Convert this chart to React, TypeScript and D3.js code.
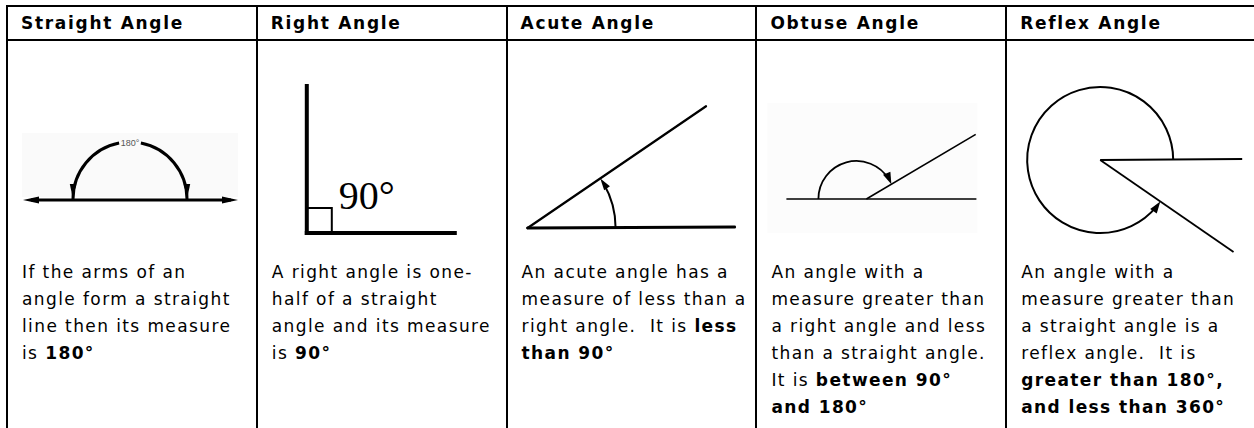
import React, { useEffect, useRef } from 'react';
import * as d3 from 'd3';

// table content
const angleNames = ['Straight Angle', 'Right Angle', 'Acute Angle', 'Obtuse Angle', 'Reflex Angle'];
const angleDegrees = [180, 90, 34.3, 149.4, 325.4];

// each line is a list of [text, bold] pieces
const descriptions: [string, boolean][][][] = [
  [
    [['If the arms of an', false]],
    [['angle form a straight', false]],
    [['line then its measure', false]],
    [['is ', false], ['180°', true]],
  ],
  [
    [['A right angle is one-', false]],
    [['half of a straight', false]],
    [['angle and its measure', false]],
    [['is ', false], ['90°', true]],
  ],
  [
    [['An acute angle has a', false]],
    [['measure of less than a', false]],
    [['right angle.  It is ', false], ['less', true]],
    [['than 90°', true]],
  ],
  [
    [['An angle with a', false]],
    [['measure greater than', false]],
    [['a right angle and less', false]],
    [['than a straight angle.', false]],
    [['It is ', false], ['between 90°', true]],
    [['and 180°', true]],
  ],
  [
    [['An angle with a', false]],
    [['measure greater than', false]],
    [['a straight angle is a', false]],
    [['reflex angle.  It is', false]],
    [['greater than 180°,', true]],
    [['and less than 360°', true]],
  ],
];

const W = 1254;
const H = 428;
const FONT = "'Comic Sans MS', 'DejaVu Sans', sans-serif";
const rad = (d: number) => (d * Math.PI) / 180;

const App = () => {
  const svgRef = useRef<SVGSVGElement>(null);

  useEffect(() => {
    const svg = d3.select(svgRef.current);
    svg.selectAll('*').remove();

    const colX = d3.scaleLinear().domain([0, angleNames.length]).range([7, 1256]);
    const lineY = d3.scaleLinear().domain([0, 1]).range([278, 305]);

    // arrowhead helper: tip point and direction
    const arrow = (g: any, tx: number, ty: number, dx: number, dy: number, len: number, hw: number) => {
      const n = Math.hypot(dx, dy);
      const ux = dx / n, uy = dy / n;
      const bx = tx - ux * len, by = ty - uy * len;
      g.append('path')
        .attr('d', `M${tx},${ty}L${bx - uy * hw},${by + ux * hw}L${bx + uy * hw},${by - ux * hw}Z`)
        .attr('fill', '#000');
    };

    const arcPath = (cx: number, cy: number, r: number, a0: number, a1: number, ccw: boolean) => {
      const p = d3.path();
      p.moveTo(cx + r * Math.cos(a0), cy + r * Math.sin(a0));
      p.arc(cx, cy, r, a0, a1, ccw);
      return p.toString();
    };

    // ---- table grid ----
    const grid = svg.append('g').attr('stroke', '#000').attr('stroke-width', 2);
    grid.append('line').attr('x1', 6).attr('x2', W).attr('y1', 6).attr('y2', 6);
    grid.append('line').attr('x1', 6).attr('x2', W).attr('y1', 40).attr('y2', 40);
    d3.range(angleNames.length).forEach((i) => {
      grid.append('line')
        .attr('x1', Math.round(colX(i))).attr('x2', Math.round(colX(i)))
        .attr('y1', 5).attr('y2', H);
    });

    // ---- headers ----
    svg.selectAll('.hdr')
      .data(angleNames)
      .enter()
      .append('text')
      .attr('class', 'hdr')
      .attr('x', (d, i) => colX(i) + 14)
      .attr('y', 29)
      .attr('font-family', FONT)
      .attr('font-weight', 'bold')
      .attr('font-size', 17)
      .attr('letter-spacing', 1.7)
      .text((d) => d);

    // ---- descriptions ----
    descriptions.forEach((lines, i) => {
      const t = svg.append('text')
        .attr('font-family', FONT)
        .attr('font-size', 17)
        .attr('letter-spacing', 1.4)
        .style('white-space', 'pre');
      lines.forEach((parts, j) => {
        parts.forEach(([txt, bold], k) => {
          const s = t.append('tspan').attr('font-weight', bold ? 'bold' : 'normal').text(txt);
          if (k === 0) s.attr('x', colX(i) + 15).attr('y', lineY(j));
        });
      });
    });

    // ---- straight angle ----
    {
      const g = svg.append('g');
      const x0 = colX(0);
      const cy = 200, cx = x0 + 123, r = 57;
      g.append('rect').attr('x', x0 + 15).attr('y', 133).attr('width', 216).attr('height', 64).attr('fill', '#fafafa');
      g.append('line').attr('x1', x0 + 24).attr('x2', x0 + 224).attr('y1', cy).attr('y2', cy)
        .attr('stroke', '#000').attr('stroke-width', 3);
      arrow(g, x0 + 16, cy, -1, 0, 16, 3.5);
      arrow(g, x0 + 231, cy, 1, 0, 16, 3.5);
      const half = angleDegrees[0] / 2;
      const gap = 11;
      [[180, 270 - gap], [270 + gap, 180 + angleDegrees[0]]].forEach(([a0, a1]) => {
        g.append('path').attr('d', arcPath(cx, cy - 1, r, rad(a0), rad(a1), false))
          .attr('fill', 'none').attr('stroke', '#000').attr('stroke-width', 3);
      });
      arrow(g, cx - r, cy - 1, 0, 1, 15, 3.2);
      arrow(g, cx + r, cy - 1, 0, 1, 15, 3.2);
      g.append('text').attr('x', cx).attr('y', cy - r - 1 + 3.5).attr('text-anchor', 'middle')
        .attr('font-family', "'Liberation Sans', Arial, sans-serif").attr('font-size', 9)
        .attr('fill', '#555').text(`${half * 2}°`);
    }

    // ---- right angle ----
    {
      const g = svg.append('g');
      const x0 = colX(1);
      const vx = x0 + 50, vy = 233;
      g.append('line').attr('x1', vx).attr('x2', vx).attr('y1', 84).attr('y2', vy + 2)
        .attr('stroke', '#000').attr('stroke-width', 4);
      g.append('line').attr('x1', vx - 2).attr('x2', vx + 150).attr('y1', vy).attr('y2', vy)
        .attr('stroke', '#000').attr('stroke-width', 4);
      g.append('rect').attr('x', vx).attr('y', vy - 25).attr('width', 25).attr('height', 25)
        .attr('fill', 'none').attr('stroke', '#000').attr('stroke-width', 2);
      g.append('text').attr('x', vx + 32).attr('y', 209)
        .attr('font-family', "'Liberation Serif', 'Times New Roman', serif").attr('font-size', 40)
        .text(`${angleDegrees[1]}°`);
    }

    // ---- acute angle ----
    {
      const g = svg.append('g');
      const x0 = colX(2);
      const vx = x0 + 21, vy = 228;
      const a = rad(-angleDegrees[2]);
      const len = 216, r = 88;
      g.append('line').attr('x1', vx).attr('x2', vx + 207).attr('y1', vy).attr('y2', vy - 1)
        .attr('stroke', '#000').attr('stroke-width', 3).attr('stroke-linecap', 'round');
      g.append('line').attr('x1', vx).attr('x2', vx + len * Math.cos(a)).attr('y1', vy).attr('y2', vy + len * Math.sin(a))
        .attr('stroke', '#000').attr('stroke-width', 2.2).attr('stroke-linecap', 'round');
      g.append('path').attr('d', arcPath(vx, vy, r, 0, a + rad(4), true))
        .attr('fill', 'none').attr('stroke', '#000').attr('stroke-width', 2);
      arrow(g, vx + r * Math.cos(a), vy + r * Math.sin(a), Math.sin(a), -Math.cos(a), 12, 3.5);
    }

    // ---- obtuse angle ----
    {
      const g = svg.append('g');
      const x0 = colX(3);
      const vx = x0 + 110, vy = 199;
      const a = rad(-(180 - angleDegrees[3]));
      g.append('rect').attr('x', x0 + 11).attr('y', 103).attr('width', 210).attr('height', 130).attr('fill', '#fcfcfc');
      g.append('line').attr('x1', x0 + 30).attr('x2', x0 + 220).attr('y1', vy).attr('y2', vy)
        .attr('stroke', '#000').attr('stroke-width', 1.6);
      const len = 127;
      g.append('line').attr('x1', vx).attr('x2', vx + len * Math.cos(a)).attr('y1', vy).attr('y2', vy + len * Math.sin(a))
        .attr('stroke', '#000').attr('stroke-width', 1.6);
      // the arc is drawn around a point just left of the vertex, as in the original sketch
      const cx = vx - 10, r = 38;
      const t = 29;
      const ex = vx + t * Math.cos(a), ey = vy + t * Math.sin(a);
      const ea = Math.atan2(ey - vy, ex - cx) + 2 * Math.PI;
      g.append('path').attr('d', arcPath(cx, vy, r, Math.PI, ea - rad(8), false))
        .attr('fill', 'none').attr('stroke', '#000').attr('stroke-width', 1.8);
      arrow(g, ex, ey, -Math.sin(ea), Math.cos(ea), 12, 4);
    }

    // ---- reflex angle ----
    {
      const g = svg.append('g');
      const x0 = colX(4);
      const vx = x0 + 94, vy = 160;
      const a = rad(360 - angleDegrees[4]);
      const r = 73;
      g.append('line').attr('x1', vx).attr('x2', vx + 142).attr('y1', vy).attr('y2', vy - 1)
        .attr('stroke', '#000').attr('stroke-width', 2);
      const len = 162;
      g.append('line').attr('x1', vx).attr('x2', vx + len * Math.cos(a)).attr('y1', vy).attr('y2', vy + len * Math.sin(a))
        .attr('stroke', '#000').attr('stroke-width', 1.8);
      g.append('path').attr('d', arcPath(vx, vy, r, 0, a + rad(5), true))
        .attr('fill', 'none').attr('stroke', '#000').attr('stroke-width', 2);
      arrow(g, vx + r * Math.cos(a), vy + r * Math.sin(a), Math.sin(a), -Math.cos(a), 12, 4);
    }
  }, []);

  return (
    <svg
      ref={svgRef}
      width={W}
      height={H}
      style={{ position: 'absolute', left: 0, top: 0, background: '#fff' }}
    />
  );
};

export default App;
